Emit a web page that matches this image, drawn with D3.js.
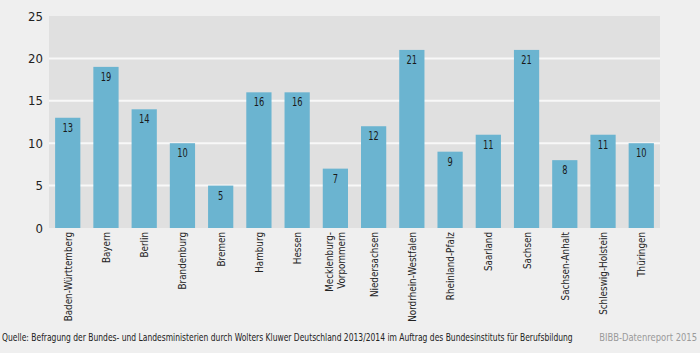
<!DOCTYPE html>
<html lang="de">
<head>
<meta charset="UTF-8">
<title>BIBB-Datenreport 2015</title>
<script src="https://d3js.org/d3.v7.min.js"></script>
<style>
    body { margin: 0; background: #efefef; }
    svg { display: block; }
    text { font-family: "DejaVu Sans Condensed", "Liberation Sans Narrow", sans-serif; }
</style>
</head>
<body>
<svg width="700" height="353"></svg>
<script>
    const laender = ["Baden-Württemberg", "Bayern", "Berlin", "Brandenburg", "Bremen", "Hamburg",
        "Hessen", "Mecklenburg-\nVorpommern", "Niedersachsen", "Nordrhein-Westfalen", "Rheinland-Pfalz",
        "Saarland", "Sachsen", "Sachsen-Anhalt", "Schleswig-Holstein", "Thüringen"];
    const werte = [13, 19, 14, 10, 5, 16, 16, 7, 12, 21, 9, 11, 21, 8, 11, 10];
    const yTicks = [0, 5, 10, 15, 20, 25];
    const quelle = "Quelle: Befragung der Bundes- und Landesministerien durch Wolters Kluwer Deutschland 2013/2014 im Auftrag des Bundesinstituts für Berufsbildung";
    const report = "BIBB-Datenreport 2015";

    const svg = d3.select("svg");
    const plotLeft = 49, plotRight = 660, plotTop = 16, plotBottom = 228;

    // squeeze text horizontally to mimic the narrow original font
    function condense(sel, factor) {
        sel.each(function () {
            const w = this.getComputedTextLength();
            d3.select(this)
                .attr("textLength", w * factor)
                .attr("lengthAdjust", "spacingAndGlyphs");
        });
    }

    const x = d3.scaleBand()
        .domain(laender)
        .range([plotLeft, plotRight])
        .paddingInner(0.34)
        .paddingOuter(0.16);

    const y = d3.scaleLinear()
        .domain([0, 25])
        .range([plotBottom, plotTop]);

    // plot background
    svg.append("rect")
        .attr("x", plotLeft).attr("y", plotTop)
        .attr("width", plotRight - plotLeft).attr("height", plotBottom - plotTop)
        .attr("fill", "#e0e0e0");

    // grid lines
    svg.append("g")
        .selectAll("line")
        .data(yTicks.filter(d => d > 0 && d < 25))
        .join("line")
        .attr("x1", plotLeft).attr("x2", plotRight)
        .attr("y1", d => y(d)).attr("y2", d => y(d))
        .attr("stroke", "#f8f8f8")
        .attr("stroke-width", 2);

    // y axis
    const yAxis = svg.append("g")
        .attr("transform", `translate(${plotLeft},0)`)
        .call(d3.axisLeft(y).tickValues(yTicks).tickSize(0).tickPadding(6));
    yAxis.select(".domain").remove();
    yAxis.selectAll("text")
        .attr("font-size", 13)
        .attr("font-family", "DejaVu Sans Condensed, sans-serif")
        .attr("fill", "#222");

    // bars
    svg.append("g")
        .selectAll("rect")
        .data(werte)
        .join("rect")
        .attr("x", (d, i) => x(laender[i]))
        .attr("y", d => y(d))
        .attr("width", x.bandwidth())
        .attr("height", d => y(0) - y(d))
        .attr("fill", "#6bb4d0");

    // value labels
    svg.append("g")
        .selectAll("text")
        .data(werte)
        .join("text")
        .attr("x", (d, i) => x(laender[i]) + x.bandwidth() / 2)
        .attr("y", d => y(d) + 14)
        .attr("text-anchor", "middle")
        .attr("font-size", 11.5)
        .attr("fill", "#1a1a1a")
        .text(d => d)
        .call(condense, 0.8);

    // category labels (rotated)
    const cat = svg.append("g")
        .selectAll("text")
        .data(laender)
        .join("text")
        .attr("transform", d => {
            const lines = d.split("\n").length;
            const cx = x(d) + x.bandwidth() / 2 + 4 - (lines - 1) * 6;
            return `translate(${cx},${plotBottom + 4}) rotate(-90)`;
        })
        .attr("text-anchor", "end")
        .attr("font-size", 11)
        .attr("fill", "#222");
    cat.each(function (d) {
        const t = d3.select(this);
        d.split("\n").forEach((line, k) => {
            t.append("tspan")
                .attr("x", 0)
                .attr("dy", k === 0 ? 0 : 12)
                .text(line);
        });
    });
    cat.selectAll("tspan").call(condense, 0.89);

    // footer: scaled horizontally rather than stretched per glyph
    const src = svg.append("text")
        .attr("font-size", 11)
        .attr("fill", "#222")
        .text(quelle);
    const srcW = src.node().getComputedTextLength();
    src.attr("transform", `translate(2,341) scale(${571 / srcW},1)`);

    const rep = svg.append("text")
        .attr("text-anchor", "end")
        .attr("font-size", 11)
        .attr("fill", "#9a9a9a")
        .text(report);
    rep.attr("transform", "translate(697,341) scale(0.85,1)");
</script>
</body>
</html>
